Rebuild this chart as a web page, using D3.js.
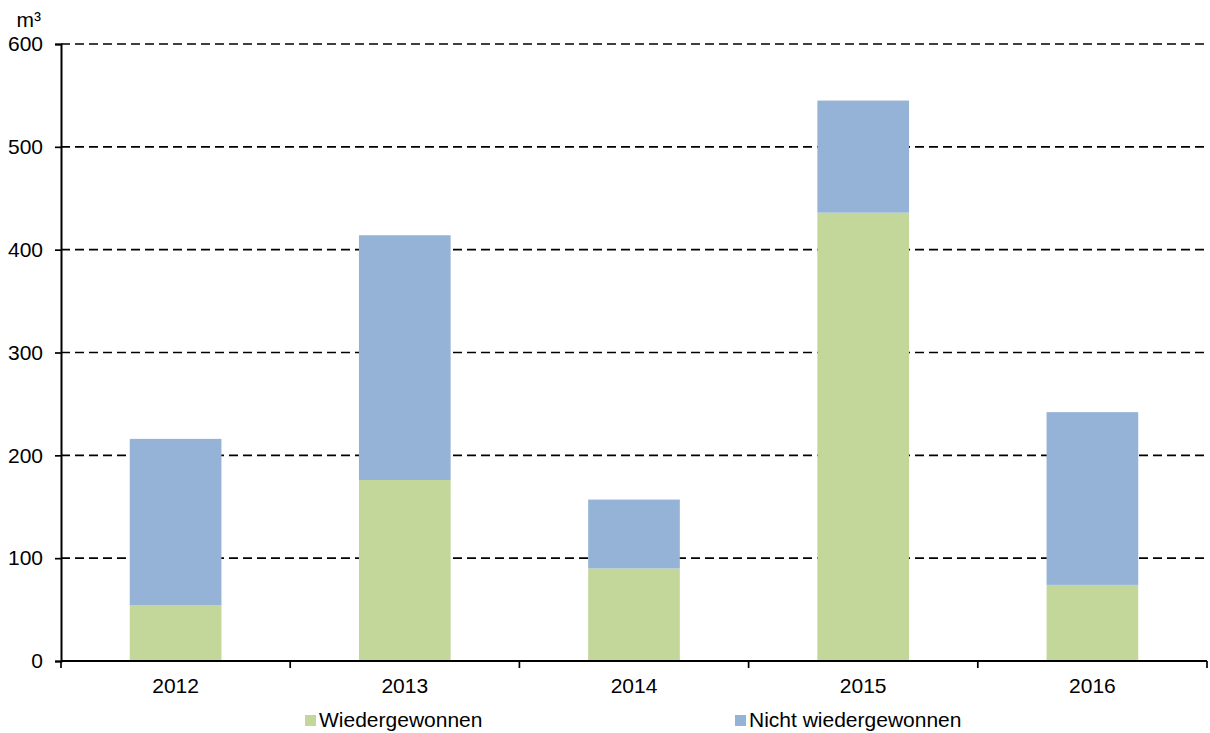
<!DOCTYPE html>
<html>
<head>
<meta charset="utf-8">
<script src="https://cdn.jsdelivr.net/npm/d3@7"></script>
<style>
  body { margin: 0; background: #fff; }
  svg { display: block; font-family: "Liberation Sans", Arial, sans-serif; }
</style>
</head>
<body>
<svg id="chart" width="1210" height="733"></svg>
<script>
// data
var years = ['2012', '2013', '2014', '2015', '2016']
var recovered = [54, 176, 90, 436, 74]
var notRecovered = [162, 238, 67, 109, 168]
var yTicks = [0, 100, 200, 300, 400, 500, 600]
var seriesNames = ['Wiedergewonnen', 'Nicht wiedergewonnen']
var colors = ['#c4d79b', '#95b3d7']

var fontSize = 21
var svg = d3.select('#chart')
var margin = { left: 61, right: 3, top: 44, bottom: 72 }
var width = 1210 - margin.left - margin.right
var height = 733 - margin.top - margin.bottom

var g = svg.append('g').attr('transform', 'translate(' + margin.left + ',' + margin.top + ')')

var x = d3.scaleBand().domain(years).range([0, width]).paddingInner(0.6).paddingOuter(0.3)
var y = d3.scaleLinear().domain([0, 600]).range([height, 0])

// gridlines
g.selectAll('.grid').data(yTicks.filter(function(d) { return d > 0 }))
  .enter().append('line')
  .attr('x1', 0).attr('x2', width)
  .attr('y1', function(d) { return y(d) }).attr('y2', function(d) { return y(d) })
  .attr('stroke', '#000').attr('stroke-width', 1.7).attr('stroke-dasharray', '9,5')

// stacked bars
var rows = years.map(function(yr, i) {
  return { year: yr, a: recovered[i], b: notRecovered[i] }
})
var stack = d3.stack().keys(['a', 'b'])(rows)

g.selectAll('.series').data(stack).enter().append('g')
  .attr('fill', function(d, i) { return colors[i] })
  .selectAll('rect').data(function(d) { return d }).enter().append('rect')
  .attr('x', function(d) { return x(d.data.year) })
  .attr('width', x.bandwidth())
  .attr('y', function(d) { return y(d[1]) })
  .attr('height', function(d) { return y(d[0]) - y(d[1]) })

// y axis
var yAxis = g.append('g')
  .call(d3.axisLeft(y).tickValues(yTicks).tickSize(6).tickPadding(12))
yAxis.select('.domain').attr('stroke-width', 2)
yAxis.selectAll('.tick line').attr('stroke-width', 1.7)
yAxis.selectAll('text').attr('font-size', fontSize).attr('fill', '#000')
  .attr('font-family', '"Liberation Sans", Arial, sans-serif')

// x axis with ticks at category boundaries
var step = width / years.length
var xAxis = g.append('g').attr('transform', 'translate(0,' + height + ')')
xAxis.append('line').attr('x1', 0).attr('x2', width).attr('stroke', '#000').attr('stroke-width', 2)
xAxis.selectAll('.bt').data(d3.range(years.length + 1)).enter().append('line')
  .attr('x1', function(d) { return d * step }).attr('x2', function(d) { return d * step })
  .attr('y1', 0).attr('y2', 7).attr('stroke', '#000').attr('stroke-width', 1.7)
xAxis.selectAll('.lbl').data(years).enter().append('text')
  .attr('x', function(d) { return x(d) + x.bandwidth() / 2 })
  .attr('y', 32).attr('text-anchor', 'middle').attr('font-size', fontSize)
  .text(function(d) { return d })

// unit label
svg.append('text').attr('x', 41).attr('y', 27).attr('text-anchor', 'end')
  .attr('font-size', fontSize).text('m³')

// legend
var legendX = [305, 735]
var legend = svg.selectAll('.legend').data(seriesNames).enter().append('g')
  .attr('transform', function(d, i) { return 'translate(' + legendX[i] + ',715)' })
legend.append('rect').attr('width', 11).attr('height', 11).attr('fill', function(d, i) { return colors[i] })
legend.append('text').attr('x', 14).attr('y', 12).attr('font-size', fontSize).text(function(d) { return d })
</script>
</body>
</html>
